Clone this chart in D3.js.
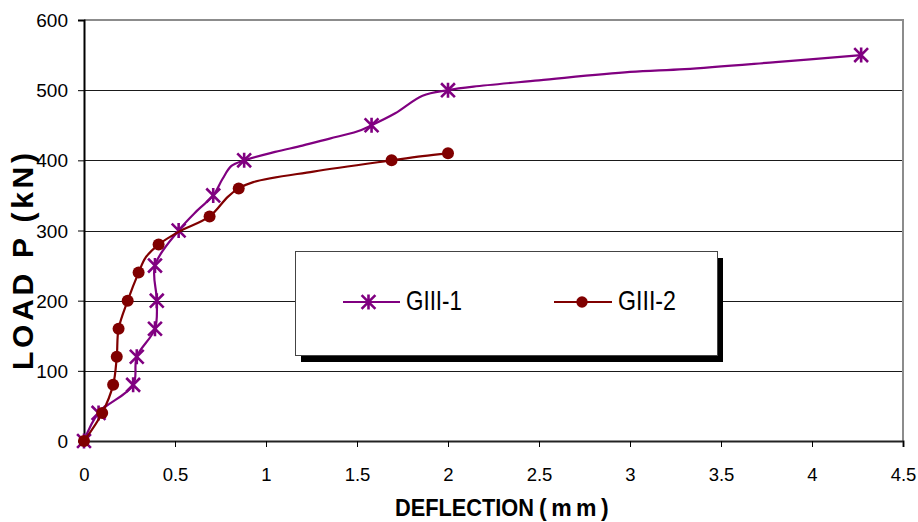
<!DOCTYPE html>
<html>
<head>
<meta charset="utf-8">
<script src="https://cdn.jsdelivr.net/npm/d3@7/dist/d3.min.js"></script>
<style>
  html, body { margin: 0; padding: 0; background: #fff; }
  svg { display: block; font-family: "Liberation Sans", Arial, sans-serif; }
</style>
</head>
<body>
<svg id="chart" width="918" height="522"></svg>
<script>
// Load-deflection readings for the two GIII specimens (marked points)
const giii1Deflection = [0, 0.08, 0.27, 0.29, 0.39, 0.40, 0.39, 0.52, 0.71, 0.88, 1.58, 2.00, 4.27];
const giii1Load       = [0, 40, 80, 120, 160, 200, 250, 300, 350, 400, 450, 500, 550];
const giii2Deflection = [0, 0.10, 0.16, 0.18, 0.19, 0.24, 0.30, 0.41, 0.69, 0.85, 1.69, 2.00];
const giii2Load       = [0, 40, 80, 120, 160, 200, 240, 280, 320, 360, 400, 410];

// Additional unmarked readings along each recorded trace
const giii1TraceDeflection = [0.62, 0.76, 0.81, 1.05, 1.20, 1.35, 1.50, 1.71, 1.86, 2.14, 2.50, 3.00, 3.30, 3.80];
const giii1TraceLoad       = [328, 373, 392, 412, 421, 431, 441, 467, 492, 505, 514, 526, 530, 540];
const giii2TraceDeflection = [0.34, 0.52, 0.79, 0.93, 1.26, 1.86];
const giii2TraceLoad       = [262, 298, 348, 369, 384, 406];

const seriesNames = ["GIII-1", "GIII-2"];
const xTicks = [0, 0.5, 1, 1.5, 2, 2.5, 3, 3.5, 4, 4.5];
const yTicks = [0, 100, 200, 300, 400, 500, 600];

const PURPLE = "#800080";
const MAROON = "#800000";

(function draw() {
  const svg = d3.select("#chart");
  const plotLeft = 84, plotRight = 903, plotTop = 20, plotBottom = 441;

  const x = d3.scaleLinear().domain([0, 4.5]).range([plotLeft, plotRight]);
  const y = d3.scaleLinear().domain([0, 600]).range([plotBottom, plotTop]);

  const zip = (xs, ys) => xs.map((v, i) => ({ d: v, p: ys[i] }));
  const trace = (xs, ys, exs, eys) =>
    zip(xs, ys).concat(zip(exs, eys)).sort((a, b) => a.p - b.p || a.d - b.d);

  const pts1 = zip(giii1Deflection, giii1Load);
  const pts2 = zip(giii2Deflection, giii2Load);
  const line1 = trace(giii1Deflection, giii1Load, giii1TraceDeflection, giii1TraceLoad);
  const line2 = trace(giii2Deflection, giii2Load, giii2TraceDeflection, giii2TraceLoad);

  svg.append("rect").attr("width", 918).attr("height", 522).attr("fill", "#fff");

  // Horizontal gridlines
  svg.append("g").selectAll("line")
    .data(yTicks.filter(t => t > 0 && t < 600))
    .join("line")
    .attr("x1", plotLeft).attr("x2", plotRight)
    .attr("y1", d => Math.round(y(d)) + 0.5).attr("y2", d => Math.round(y(d)) + 0.5)
    .attr("stroke", "#1a1a1a").attr("stroke-width", 1);

  // Plot frame (top and right)
  svg.append("line").attr("x1", plotLeft).attr("x2", plotRight + 1).attr("y1", plotTop).attr("y2", plotTop)
    .attr("stroke", "#8c8c8c").attr("stroke-width", 2);
  svg.append("line").attr("x1", plotRight).attr("x2", plotRight).attr("y1", plotTop).attr("y2", plotBottom)
    .attr("stroke", "#8c8c8c").attr("stroke-width", 2);

  // Axes
  const yAxis = d3.axisLeft(y).tickValues(yTicks).tickSize(6).tickFormat(d3.format("d"));
  const gy = svg.append("g").attr("transform", `translate(${plotLeft},0)`).call(yAxis);
  gy.select(".domain").attr("stroke", "#000").attr("stroke-width", 2);
  gy.selectAll(".tick line").attr("stroke", "#000").attr("stroke-width", 1);
  gy.selectAll(".tick text")
    .attr("x", -16).attr("dy", "0.35em")
    .attr("font-size", 19).attr("fill", "#000")
    .attr("font-family", "'Liberation Sans', Arial, sans-serif");

  const xAxis = d3.axisBottom(x).tickValues(xTicks).tickSize(6).tickFormat(d => String(d));
  const gx = svg.append("g").attr("transform", `translate(0,${plotBottom})`).call(xAxis);
  gx.select(".domain").attr("stroke", "#222").attr("stroke-width", 2);
  gx.selectAll(".tick line").attr("stroke", "#000").attr("stroke-width", 1);
  gx.selectAll(".tick text")
    .attr("y", 40).attr("dy", 0)
    .attr("font-size", 18.5).attr("fill", "#000")
    .attr("font-family", "'Liberation Sans', Arial, sans-serif");

  // Axis titles
  svg.append("text")
    .attr("transform", "translate(33,261.5) rotate(-90)")
    .attr("text-anchor", "middle")
    .attr("font-size", 30).attr("font-weight", "bold").attr("fill", "#000")
    .attr("textLength", 217).attr("lengthAdjust", "spacing")
    .text("LOAD P (kN)");

  svg.append("text")
    .attr("x", 395).attr("y", 516)
    .attr("font-size", 23).attr("font-weight", "bold").attr("fill", "#000")
    .attr("textLength", 139).attr("lengthAdjust", "spacingAndGlyphs")
    .text("DEFLECTION");
  svg.append("text")
    .attr("x", 539).attr("y", 516)
    .attr("font-size", 23).attr("font-weight", "bold").attr("fill", "#000")
    .attr("letter-spacing", 4.5)
    .text("(mm)");

  // Series lines
  const lineGen = d3.line().x(d => x(d.d)).y(d => y(d.p)).curve(d3.curveCatmullRom.alpha(0.5));

  function asterisk(g, cx, cy, r, color) {
    const a = r * 0.92;
    g.append("path")
      .attr("d", `M${cx - a},${cy - a}L${cx + a},${cy + a}M${cx - a},${cy + a}L${cx + a},${cy - a}M${cx},${cy - r}L${cx},${cy + r}`)
      .attr("stroke", color).attr("stroke-width", 2.6).attr("fill", "none");
  }

  const s1 = svg.append("g");
  s1.append("path").datum(line1).attr("d", lineGen)
    .attr("fill", "none").attr("stroke", PURPLE).attr("stroke-width", 2.2);
  pts1.forEach(pt => asterisk(s1, x(pt.d), y(pt.p), 7.5, PURPLE));

  const s2 = svg.append("g");
  s2.append("path").datum(line2).attr("d", lineGen)
    .attr("fill", "none").attr("stroke", MAROON).attr("stroke-width", 2.2);
  s2.selectAll("circle").data(pts2).join("circle")
    .attr("cx", d => x(d.d)).attr("cy", d => y(d.p)).attr("r", 6)
    .attr("fill", MAROON);

  // Legend with drop shadow
  const lg = svg.append("g");
  const bx = 295, by = 251, bw = 422, bh = 104;
  lg.append("rect").attr("x", bx + 6).attr("y", by + 7).attr("width", bw).attr("height", bh).attr("fill", "#000");
  lg.append("rect").attr("x", bx + 0.5).attr("y", by + 0.5).attr("width", bw).attr("height", bh)
    .attr("fill", "#fff").attr("stroke", "#444").attr("stroke-width", 1);

  const legendItems = [
    { name: seriesNames[0], color: PURPLE, x1: 343, x2: 400, tx: 406, tl: 56, mark: "star" },
    { name: seriesNames[1], color: MAROON, x1: 554, x2: 612, tx: 618, tl: 58, mark: "dot" }
  ];
  const ly = 302;
  legendItems.forEach(it => {
    lg.append("line").attr("x1", it.x1).attr("x2", it.x2).attr("y1", ly).attr("y2", ly)
      .attr("stroke", it.color).attr("stroke-width", 2.2);
    const mx = (it.x1 + it.x2) / 2;
    if (it.mark === "star") asterisk(lg, mx - 3, ly, 7.5, it.color);
    else lg.append("circle").attr("cx", mx - 1).attr("cy", ly).attr("r", 5.7).attr("fill", it.color);
    lg.append("text").attr("x", it.tx).attr("y", 310)
      .attr("font-size", 28).attr("fill", "#000")
      .attr("textLength", it.tl).attr("lengthAdjust", "spacingAndGlyphs")
      .text(it.name);
  });
})();
</script>
</body>
</html>
